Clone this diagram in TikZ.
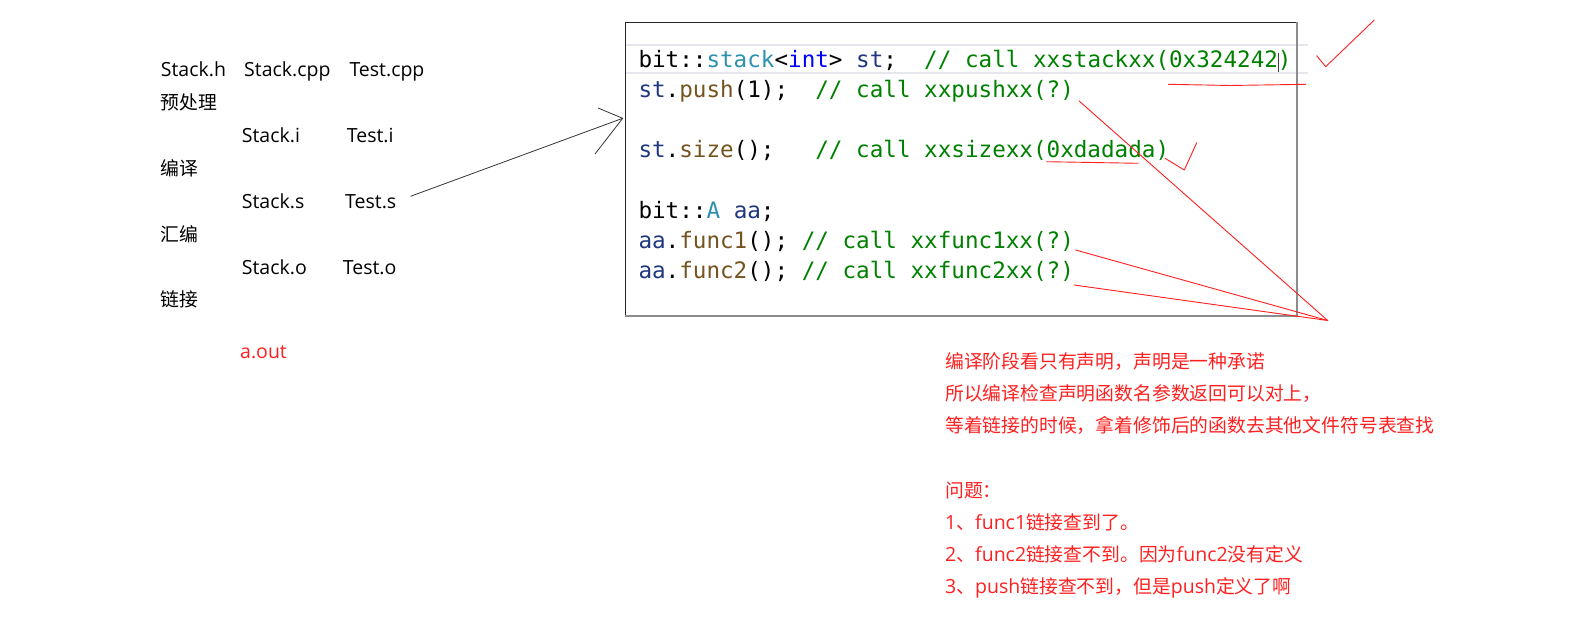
\documentclass[tikz,border=0pt]{standalone}
\usepackage{fontspec}
\setmainfont{Open Sans}
\newfontfamily\zhfont[Scale=0.965]{Noto Sans CJK SC}
\newfontfamily\codefont{DejaVu Sans Mono}
\usetikzlibrary{calc}
\definecolor{mRed}{HTML}{FF1F1F}
\definecolor{cType}{HTML}{2B91AF}
\definecolor{cKey}{HTML}{0000FF}
\definecolor{cVar}{HTML}{1F377F}
\definecolor{cFun}{HTML}{74531F}
\definecolor{cCmt}{HTML}{008000}
\definecolor{cBand}{HTML}{E6E6EE}
\newcommand{\zh}[1]{{\zhfont #1}}
\newcommand{\tyC}[1]{\textcolor{cType}{#1}}
\newcommand{\kwC}[1]{\textcolor{cKey}{#1}}
\newcommand{\vaC}[1]{\textcolor{cVar}{#1}}
\newcommand{\fnC}[1]{\textcolor{cFun}{#1}}
\newcommand{\cmC}[1]{\textcolor{cCmt}{#1}}

\begin{document}
\begin{tikzpicture}[x=1pt, y=-1pt,
    filetxt/.style={anchor=base west, inner sep=0pt, font=\fontsize{19.5}{23}\selectfont},
    notetxt/.style={filetxt, text=mRed},
    codeln/.style={anchor=base west, inner sep=0pt, font=\codefont\frenchspacing\fontsize{22.6}{27}\selectfont},
    redpen/.style={mRed, line width=0.9pt, line cap=round, line join=round},
    handline/.style={black!80, line width=0.8pt}]
  \useasboundingbox (0,0) rectangle (1588,636);
  % build steps
  \node[filetxt] (stackh) at (160.7,76.7) {Stack.h};
  \node[filetxt] (stackcpp) at (244,76.7) {Stack.cpp};
  \node[filetxt] (testcpp) at (349.3,76.7) {Test.cpp};
  \node[filetxt] (prep) at (160.7,109.6) {\zh{预处理}};
  \node[filetxt] (stacki) at (241.7,142.5) {Stack.i};
  \node[filetxt] (testi) at (346.7,142.5) {Test.i};
  \node[filetxt] (compile) at (160.7,175.4) {\zh{编译}};
  \node[filetxt] (stacks) at (241.7,208.3) {Stack.s};
  \node[filetxt] (tests) at (345,208.3) {Test.s};
  \node[filetxt] (assemble) at (160.7,241.2) {\zh{汇编}};
  \node[filetxt] (stacko) at (241.7,274.1) {Stack.o};
  \node[filetxt] (testo) at (342.7,274.1) {Test.o};
  \node[filetxt] (link) at (160.7,307) {\zh{链接}};
  \node[notetxt] (aout) at (240,358.3) {a.out};

  % code window
  \draw[cBand, line width=2pt] (625,45.5) -- (1307.7,45.5) (625,73.3) -- (1307.7,73.3);
  \node[draw=black!85, line width=0.9pt, anchor=north west, minimum width=671pt, minimum height=293pt] (codebox) at (625,22.3) {};
  \draw[black!45, line width=1.6pt] (codebox.north east) -- (codebox.south east) -- (codebox.south west);
  \node[codeln] (stackln) at (638.3,67.3) {bit::\tyC{stack}<\kwC{int}> \vaC{st};~~\cmC{// call xxstackxx(0x324242)}};
  \node[codeln] (pushln) at (638.3,97.5) {\vaC{st}.\fnC{push}(1);~~\cmC{// call xxpushxx(?)}};
  \node[codeln] (sizeln) at (638.3,157.9) {\vaC{st}.\fnC{size}();~~~\cmC{// call xxsizexx(0xdadada)}};
  \node[codeln] (objln) at (638.3,218.3) {bit::\tyC{A} \vaC{aa};};
  \node[codeln] (func1ln) at (638.3,248.5) {\vaC{aa}.\fnC{func1}();~\cmC{// call xxfunc1xx(?)}};
  \node[codeln] (func2ln) at (638.3,278.7) {\vaC{aa}.\fnC{func2}();~\cmC{// call xxfunc2xx(?)}};
  \draw[black!75, line width=1.3pt] (1278.7,53) -- (1278.7,71.7);

  % hand drawn arrow
  \coordinate (arrowtip) at (622.7,118.3);
  \draw[handline, shorten <=15pt] (tests.east) -- (arrowtip);
  \draw[handline] (arrowtip) ++(-24.7,-10.3) -- (arrowtip) -- ++(-27.7,35.7);

  % pen marks
  \draw[redpen] (1168.3,84.3) -- (1230,85.5) -- (1305.7,84.3);
  \draw[redpen] (1316.7,55.7) -- (1325.7,66.7) -- (1374.3,20);
  \draw[redpen] (1046.7,161.7) -- (1138.3,163.3);
  \draw[redpen] (1165,158.3) -- (1184.3,170) -- (1196.7,142.7);
  \coordinate (meet) at (1327.7,320.5);
  \draw[redpen] ($(pushln.base east)+(5,3.5)$) -- (meet);
  \draw[redpen] ($(func1ln.base east)+(1.5,1.5)$) -- (meet);
  \draw[redpen] ($(func2ln.base east)+(0,6.3)$) -- (meet);

  % notes
  \foreach \k/\txt in {0/{\zh{编译阶段看只有声明，声明是一种承诺}},
                       1/{\zh{所以编译检查声明函数名参数返回可以对上，}},
                       2/{\zh{等着链接的时候，拿着修饰后的函数去其他文件符号表查找}},
                       4/{\zh{问题：}},
                       5/{1\zh{、}func1\zh{链接查到了。}},
                       6/{2\zh{、}func2\zh{链接查不到。因为}func2\zh{没有定义}},
                       7/{3\zh{、}push\zh{链接查不到，但是}push\zh{定义了啊}}}
    \node[notetxt] (note\k) at (945,{368.7+32.1*\k}) {\txt};
\end{tikzpicture}
\end{document}
